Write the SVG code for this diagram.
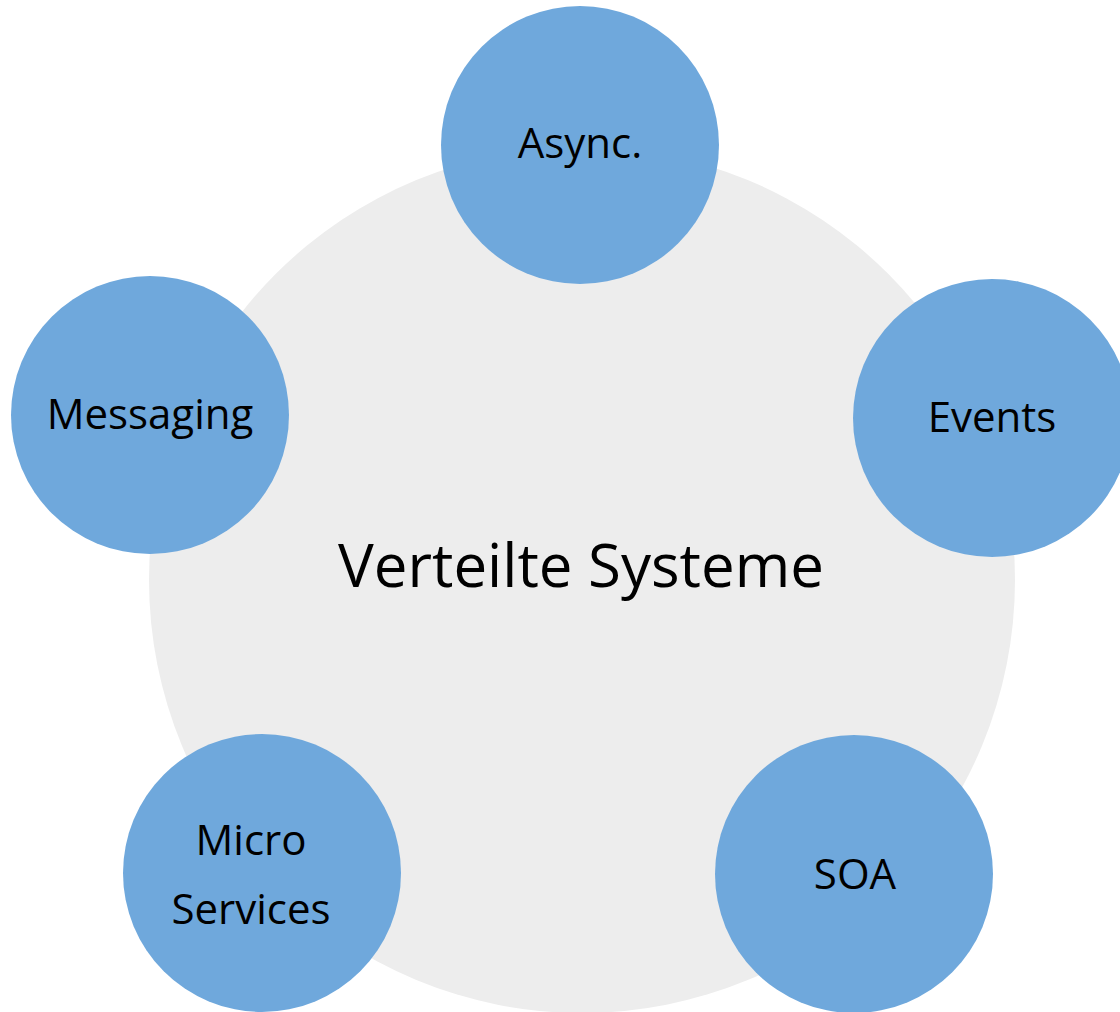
<svg xmlns="http://www.w3.org/2000/svg" width="1120" height="1012" viewBox="0 0 1120 1012">
<style>
.bg{fill:#ededed}
.n{fill:#6fa8dc}
text{font-family:"Open Sans","Noto Sans",sans-serif;fill:#000;text-anchor:middle}
.l{font-size:42px}
.c{font-size:60px}
</style>
<rect width="1120" height="1012" fill="#fff"/>
<g id="center">
<circle class="bg" cx="582" cy="580" r="433"/>
<text class="c" x="581" y="587">Verteilte Systeme</text>
</g>
<g id="connectors"></g>
<g id="async"><circle class="n" cx="580" cy="145" r="139"/><text class="l" x="580" y="158">Async.</text></g>
<g id="events"><circle class="n" cx="992" cy="418" r="139"/><text class="l" x="992" y="432">Events</text></g>
<g id="messaging"><circle class="n" cx="150" cy="415" r="139"/><text class="l" x="150" y="429">Messaging</text></g>
<g id="micro"><circle class="n" cx="262" cy="873" r="139"/><text class="l" x="251" y="855">Micro</text><text class="l" x="251" y="924">Services</text></g>
<g id="soa"><circle class="n" cx="854" cy="874" r="139"/><text class="l" x="855" y="889">SOA</text></g>
</svg>
